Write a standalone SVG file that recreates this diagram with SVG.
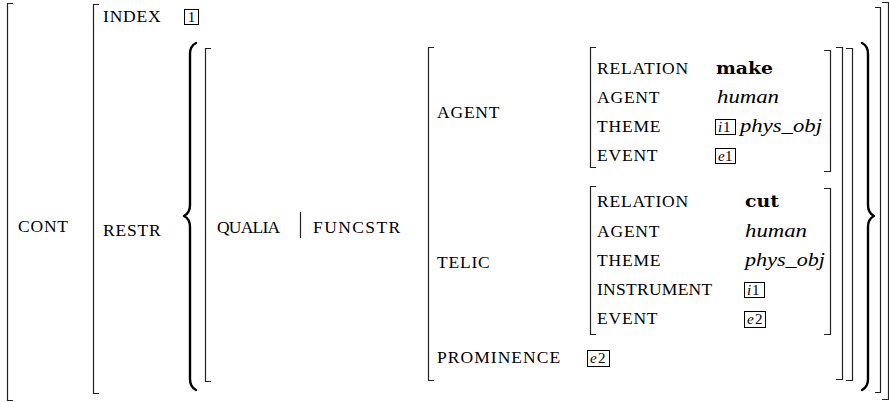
<svg xmlns="http://www.w3.org/2000/svg" width="889" height="402" viewBox="0 0 889 402">
  <style>
    .lbl { font-family: "Liberation Serif", "DejaVu Serif", serif; font-size: 17.5px; letter-spacing: 0.8px; fill: #000; }
    .it { font-family: "Liberation Serif", "DejaVu Serif", serif; font-size: 18px; font-style: italic; fill: #000; }
    .bf { font-family: "DejaVu Serif", "Liberation Serif", serif; font-size: 17px; font-weight: bold; fill: #000; }
    .tag { font-family: "Liberation Serif", "DejaVu Serif", serif; font-size: 15px; fill: #000; }
    .tag-i { font-style: italic; }
    .brk { fill: none; stroke: #222; stroke-width: 1.2; }
    .brace { fill: none; stroke: #000; stroke-width: 2.4; stroke-linejoin: round; stroke-linecap: round; }
    .box { fill: none; stroke: #000; stroke-width: 1; }
  </style>

  <!-- outer matrix: CONT -->
  <g id="cont">
    <path class="brk" d="M13,3.5 H7.5 V400.5 H13"/>
    <path class="brk" d="M882,2.5 H888.5 V399.5 H882"/>
    <text class="lbl" x="18" y="232">CONT</text>
  </g>

  <!-- CONT value: INDEX / RESTR -->
  <g id="cont-value">
    <path class="brk" d="M99,4.5 H93.5 V393.5 H99"/>
    <path class="brk" d="M875,7.5 H880.5 V392.5 H875"/>
    <text class="lbl" x="103" y="22">INDEX</text>
    <rect class="box" x="184.5" y="9.5" width="14" height="15"/>
    <text class="tag" x="191.5" y="22" text-anchor="middle">1</text>
    <text class="lbl" x="103" y="236">RESTR</text>
  </g>

  <!-- RESTR value: set braces -->
  <g id="restr-set">
    <path class="brace" d="M196,43 Q190,46 190,54 V205 Q190,213 184,216 Q190,219 190,227 V379 Q190,387 196,390"/>
    <path class="brace" d="M862,43 Q868,46 868,54 V205 Q868,213 874,216 Q868,219 868,227 V379 Q868,387 862,390"/>
  </g>

  <!-- set member: QUALIA | FUNCSTR -->
  <g id="qualia">
    <path class="brk" d="M211,48.5 H205.5 V381.5 H211"/>
    <path class="brk" d="M846,48.5 H852.5 V380.5 H846"/>
    <text class="lbl" x="217" y="233" textLength="64">QUALIA</text>
    <line class="brk" x1="300.5" y1="212" x2="300.5" y2="238"/>
    <text class="lbl" x="313" y="233" textLength="88">FUNCSTR</text>
  </g>

  <!-- FUNCSTR value: AGENT / TELIC / PROMINENCE -->
  <g id="funcstr">
    <path class="brk" d="M434,47.5 H428.5 V380.5 H434"/>
    <path class="brk" d="M836,47.5 H842.5 V379.5 H836"/>
    <text class="lbl" x="437" y="118">AGENT</text>
    <text class="lbl" x="437" y="268">TELIC</text>
    <text class="lbl" x="437" y="363" textLength="124">PROMINENCE</text>
    <rect class="box" x="587.5" y="350.5" width="22" height="16"/>
    <text class="tag tag-i" x="590" y="363">e</text>
    <text class="tag" x="598" y="363">2</text>
  </g>

  <!-- AGENT qualia -->
  <g id="agent">
    <path class="brk" d="M596,47.5 H590.5 V167.5 H596"/>
    <path class="brk" d="M824,50.5 H830.5 V171.5 H824"/>
    <text class="lbl" x="597" y="74">RELATION</text>
    <text class="bf" x="716" y="74" textLength="57" lengthAdjust="spacingAndGlyphs">make</text>
    <text class="lbl" x="597" y="103">AGENT</text>
    <text class="it" x="717" y="103" textLength="62" lengthAdjust="spacingAndGlyphs">human</text>
    <text class="lbl" x="597" y="132">THEME</text>
    <rect class="box" x="715.5" y="119.5" width="20" height="15"/>
    <text class="tag tag-i" x="718" y="132">i</text>
    <text class="tag" x="723" y="132">1</text>
    <text class="it" x="740" y="132" textLength="82" lengthAdjust="spacingAndGlyphs">phys_obj</text>
    <text class="lbl" x="597" y="161">EVENT</text>
    <rect class="box" x="715.5" y="148.5" width="20" height="15"/>
    <text class="tag tag-i" x="718" y="161">e</text>
    <text class="tag" x="725" y="161">1</text>
  </g>

  <!-- TELIC qualia -->
  <g id="telic">
    <path class="brk" d="M596,186.5 H590.5 V334.5 H596"/>
    <path class="brk" d="M824,188.5 H830.5 V334.5 H824"/>
    <text class="lbl" x="597" y="207">RELATION</text>
    <text class="bf" x="745" y="207" textLength="34" lengthAdjust="spacingAndGlyphs">cut</text>
    <text class="lbl" x="597" y="237">AGENT</text>
    <text class="it" x="745" y="237" textLength="62" lengthAdjust="spacingAndGlyphs">human</text>
    <text class="lbl" x="597" y="266">THEME</text>
    <text class="it" x="745" y="266" textLength="80" lengthAdjust="spacingAndGlyphs">phys_obj</text>
    <text class="lbl" x="597" y="295" textLength="116">INSTRUMENT</text>
    <rect class="box" x="744.5" y="282.5" width="20" height="15"/>
    <text class="tag tag-i" x="747" y="295">i</text>
    <text class="tag" x="752" y="295">1</text>
    <text class="lbl" x="597" y="324">EVENT</text>
    <rect class="box" x="744.5" y="311.5" width="21" height="16"/>
    <text class="tag tag-i" x="747" y="324">e</text>
    <text class="tag" x="755" y="324">2</text>
  </g>
</svg>
